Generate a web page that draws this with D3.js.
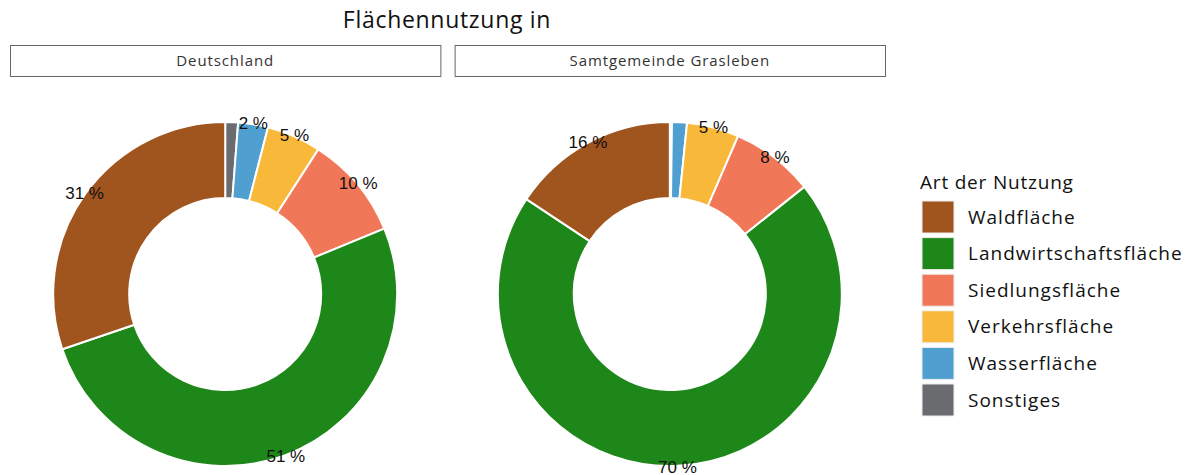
<!DOCTYPE html>
<html>
<head>
<meta charset="utf-8">
<script src="https://cdn.jsdelivr.net/npm/d3@7"></script>
<style>
  body { margin: 0; background: #fff; }
  text { font-family: "Open Sans", sans-serif; }
  .pct { font-family: "Liberation Sans", Arial, sans-serif; }
</style>
</head>
<body>
<div id="chart"></div>
<script>
// Land use shares (percent)
const categories = ["Waldfläche", "Landwirtschaftsfläche", "Siedlungsfläche", "Verkehrsfläche", "Wasserfläche", "Sonstiges"];
const regions = ["Deutschland", "Samtgemeinde Grasleben"];
const valuesDeutschland = [30.2, 51.0, 9.7, 5.1, 2.8, 1.2];
const valuesGrasleben = [15.7, 70.0, 7.8, 4.9, 1.4, 0.2];
const labelsDeutschland = ["31 %", "51 %", "10 %", "5 %", "2 %", ""];
const labelsGrasleben = ["16 %", "70 %", "8 %", "5 %", "", ""];
const colors = ["#a0541e", "#1e871a", "#f07858", "#f8b83a", "#4f9fd1", "#6b6c70"];

const width = 1190, height = 475;

const svg = d3.select("#chart").append("svg")
    .attr("width", width)
    .attr("height", height);

const color = d3.scaleOrdinal().domain(categories).range(colors);

// title
svg.append("text")
    .attr("x", 447)
    .attr("y", 28)
    .attr("text-anchor", "middle")
    .attr("font-size", 23)
    .attr("letter-spacing", 0.7)
    .attr("fill", "#111")
    .text("Flächennutzung in");

// facet panels
const panelX = d3.scaleBand().domain(regions).range([10, 885]).paddingInner(0.032);
const panels = [
    { name: regions[0], values: valuesDeutschland, labels: labelsDeutschland },
    { name: regions[1], values: valuesGrasleben, labels: labelsGrasleben }
];

const outerR = 172, innerR = 96;
// ggplot stacks in reverse legend order, clockwise from the top
const pie = d3.pie().sort(null).value(d => d.value);
const arc = d3.arc().innerRadius(innerR).outerRadius(outerR);
const labelArc = d3.arc().innerRadius(outerR + 1).outerRadius(outerR + 1);

panels.forEach(p => {
    const x0 = panelX(p.name);
    const bw = panelX.bandwidth();

    svg.append("rect")
        .attr("x", x0 + 0.5)
        .attr("y", 45.5)
        .attr("width", bw)
        .attr("height", 31)
        .attr("fill", "#fff")
        .attr("stroke", "#666")
        .attr("stroke-width", 1);

    svg.append("text")
        .attr("x", x0 + bw / 2)
        .attr("y", 61)
        .attr("dy", "0.35em")
        .attr("text-anchor", "middle")
        .attr("font-size", 15)
        .attr("letter-spacing", 0.9)
        .attr("fill", "#333")
        .text(p.name);

    const rows = categories.map((c, i) => ({ cat: c, value: p.values[i], label: p.labels[i] })).reverse();

    const g = svg.append("g")
        .attr("transform", `translate(${x0 + bw / 2}, 294)`);

    g.selectAll("path")
        .data(pie(rows))
        .join("path")
        .attr("d", arc)
        .attr("fill", d => color(d.data.cat))
        .attr("stroke", "#fff")
        .attr("stroke-width", 2);

    g.selectAll("text")
        .data(pie(rows).filter(d => d.data.label))
        .join("text")
        .attr("class", "pct")
        .attr("transform", d => `translate(${labelArc.centroid(d)})`)
        .attr("dy", "0.35em")
        .attr("text-anchor", "middle")
        .attr("font-size", 17)
        .attr("fill", "#111")
        .text(d => d.data.label);
});

// legend
const legend = svg.append("g").attr("transform", "translate(920, 0)");

legend.append("text")
    .attr("x", 0)
    .attr("y", 189)
    .attr("font-size", 19)
    .attr("letter-spacing", 0.8)
    .attr("fill", "#111")
    .text("Art der Nutzung");

const legendY = d3.scalePoint().domain(categories).range([217, 400]);

legend.selectAll("rect")
    .data(categories)
    .join("rect")
    .attr("x", 2)
    .attr("y", d => legendY(d) - 16)
    .attr("width", 32)
    .attr("height", 32)
    .attr("fill", d => color(d))
    .attr("stroke", "#eee")
    .attr("stroke-width", 1);

legend.selectAll("text.item")
    .data(categories)
    .join("text")
    .attr("class", "item")
    .attr("x", 48)
    .attr("y", d => legendY(d))
    .attr("dy", "0.35em")
    .attr("font-size", 19)
    .attr("letter-spacing", 1)
    .attr("fill", "#111")
    .text(d => d);
</script>
</body>
</html>
